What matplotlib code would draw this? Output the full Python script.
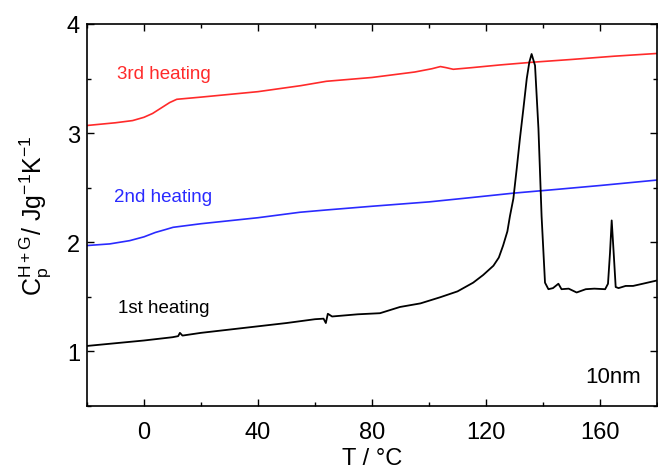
import matplotlib
matplotlib.use("Agg")
import matplotlib.pyplot as plt
from matplotlib.ticker import MultipleLocator
import numpy as np

plt.rcParams['font.family'] = ['Liberation Sans', 'DejaVu Sans']
plt.rcParams['mathtext.fontset'] = 'custom'
plt.rcParams['mathtext.rm'] = 'Liberation Sans'
plt.rcParams['mathtext.it'] = 'Liberation Sans'
plt.rcParams['mathtext.default'] = 'regular'

# 3rd heating
t3 = [-20, -10, -4, 0, 3, 6, 9, 11.5, 20, 40, 55, 64, 80, 95, 101, 104, 106, 108.5, 115, 125, 136.5, 150, 165, 180]
cp3 = [3.07, 3.095, 3.115, 3.145, 3.18, 3.23, 3.28, 3.31, 3.33, 3.38, 3.435, 3.475, 3.51, 3.56, 3.59, 3.61, 3.60, 3.585, 3.60, 3.625, 3.65, 3.675, 3.705, 3.73]

# 2nd heating
t2 = [-20, -12, -5, 0, 4, 8, 10.2, 20, 40, 54.7, 64, 80, 100, 115, 129.6, 145, 160, 180]
cp2 = [1.97, 1.985, 2.015, 2.05, 2.09, 2.12, 2.137, 2.17, 2.225, 2.275, 2.296, 2.33, 2.37, 2.41, 2.45, 2.485, 2.52, 2.57]

# 1st heating
t1 = [-20, -10, 0, 10, 12, 12.6, 13.5, 20, 30, 40, 50, 60, 63, 63.8, 64.5, 66, 75, 82.8, 89.8, 97, 103.9, 110, 115.5, 119, 122.6,
      124.5, 126, 127.5, 128.4, 129.6, 130.8, 131.9, 133.1, 134.3, 135.2, 136.0, 137.2, 138.4, 139.5, 140.7, 141.9, 143.5, 145.4,
      146.5, 149, 151.8, 155, 158, 161.8, 162.8, 163.5, 164.1, 164.8, 165.5, 166.5, 169, 171.6, 175, 180]
cp1 = [1.05, 1.075, 1.1, 1.13, 1.14, 1.17, 1.145, 1.17, 1.2, 1.23, 1.26, 1.295, 1.30, 1.26, 1.345, 1.32, 1.34, 1.35, 1.407, 1.44, 1.496, 1.55, 1.63, 1.70, 1.785,
      1.86, 1.97, 2.10, 2.24, 2.40, 2.68, 2.95, 3.22, 3.50, 3.65, 3.725, 3.62, 3.04, 2.24, 1.63, 1.57, 1.58, 1.62,
      1.57, 1.575, 1.54, 1.57, 1.575, 1.57, 1.62, 1.90, 2.20, 1.90, 1.59, 1.58, 1.60, 1.60, 1.62, 1.65]

fig = plt.figure(figsize=(6.58, 4.77), dpi=100)
ax = fig.add_axes([0.1322, 0.1468, 0.8663, 0.8008])

ax.plot(t3, cp3, color='#ff2a2a', lw=1.2)
ax.plot(t2, cp2, color='#2a2aff', lw=1.2)
ax.plot(t1, cp1, color='black', lw=1.3)

ax.set_xlim(-20, 180)
ax.set_ylim(0.5, 4)
ax.xaxis.set_major_locator(MultipleLocator(40))
ax.xaxis.set_minor_locator(MultipleLocator(20))
ax.yaxis.set_major_locator(MultipleLocator(1))
ax.yaxis.set_minor_locator(MultipleLocator(0.5))
ax.tick_params(which='both', direction='in', top=True, right=True, width=1.0, labelsize=17)
ax.tick_params(which='major', length=5)
ax.tick_params(which='minor', length=3)
ax.tick_params(axis='x', pad=11)
ax.tick_params(axis='y', pad=5)
for s in ax.spines.values():
    s.set_linewidth(1.2)

ax.set_xlabel('T / °C', fontsize=17, labelpad=3)
ax.set_ylabel('$C_p^{H+G}$/ Jg$^{-1}$K$^{-1}$', fontsize=18, labelpad=10)

ax.text(-9.5, 3.55, '3rd heating', color='#ff2a2a', fontsize=13.5, va='center', ha='left')
ax.text(-10.5, 2.42, '2nd heating', color='#2a2aff', fontsize=13.5, va='center', ha='left')
ax.text(-9, 1.4, '1st heating', color='black', fontsize=13.5, va='center', ha='left')
ax.text(174.5, 0.77, '10nm', color='black', fontsize=16, va='center', ha='right')

fig.savefig('out.png', dpi=100)
